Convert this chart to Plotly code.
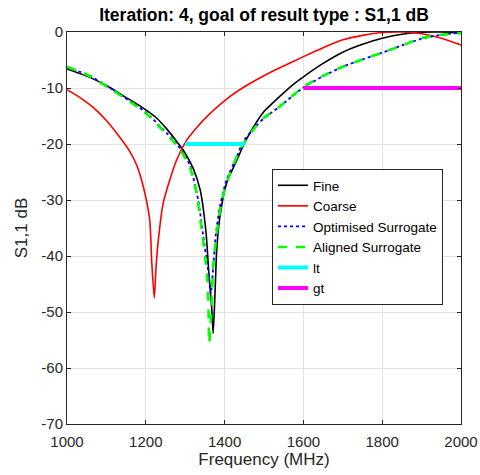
import plotly.graph_objects as go

# ---- data ----
freq_fine = [1000, 1058, 1101, 1143, 1185, 1228, 1253, 1278, 1296, 1320, 1338, 1353, 1360, 1367, 1371,
             1376, 1380, 1388, 1405, 1431, 1452, 1480, 1500, 1540, 1570, 1600, 1650, 1700, 1750,
             1800, 1850, 1900, 1950, 2000]
s11_fine = [-6.6, -8.1, -9.6, -11.4, -13.2, -15.4, -17.3, -19.5, -21.2, -24.3, -28.2, -35.9, -43.1, -49.0, -53.8,
            -46.0, -38.9, -33.0, -27.0, -22.9, -19.6, -16.2, -14.2, -11.5, -9.6, -8.0, -5.6, -3.6, -2.2,
            -1.1, -0.4, -0.05, 0.0, -0.2]

freq_coarse = [1000, 1035, 1067, 1100, 1135, 1160, 1177, 1195, 1210, 1215, 1221.5, 1226, 1232, 1244,
               1261, 1278, 1304, 1330, 1355, 1414, 1464, 1500, 1540, 1600, 1650, 1700, 1750, 1800,
               1850, 1900, 1950, 2000]
s11_coarse = [-10.3, -11.8, -13.5, -15.8, -18.9, -21.4, -23.8, -28.0, -33.6, -41.0, -47.5, -42.0, -37.0, -30.6,
              -26.4, -22.9, -19.3, -17.0, -15.1, -11.5, -9.2, -7.8, -6.4, -4.4, -2.8, -1.4, -0.6, -0.1,
              0.0, -0.3, -1.1, -2.3]

freq_opt = [1000, 1058, 1118, 1169, 1203, 1237, 1262, 1287, 1312, 1333, 1346, 1359, 1365, 1370,
            1378, 1388, 1405, 1431, 1447, 1480, 1500, 1540, 1600, 1650, 1700, 1750, 1800, 1850,
            1900, 1950, 2000]
s11_opt = [-6.3, -7.8, -10.4, -12.8, -14.5, -16.9, -18.7, -20.8, -23.8, -30.0, -36.5, -43.0, -46.7, -43.0,
           -36.0, -31.2, -26.4, -22.3, -19.6, -16.8, -15.4, -13.3, -9.9, -7.9, -6.2, -4.9, -3.7, -2.4,
           -1.2, -0.5, -0.1]

freq_aln = [1000, 1058, 1118, 1169, 1203, 1237, 1262, 1287, 1312, 1328, 1342, 1355, 1359, 1361,
            1367, 1371, 1380, 1393, 1414, 1443, 1480, 1500, 1540, 1600, 1650, 1700, 1750, 1800,
            1850, 1900, 1950, 2000]
s11_aln = [-6.2, -7.9, -10.5, -12.9, -14.7, -17.1, -18.9, -21.0, -24.2, -28.5, -35.4, -43.0, -49.0, -55.6,
           -49.0, -41.9, -36.0, -30.0, -25.2, -20.5, -16.8, -15.3, -13.3, -9.8, -7.8, -6.2, -4.9, -3.7,
           -2.4, -1.1, -0.5, -0.2]

freq_lt = [1300, 1450]
level_lt = [-20, -20]
freq_gt = [1600, 2000]
level_gt = [-10, -10]

x_ticks = [1000, 1200, 1400, 1600, 1800, 2000]
y_ticks = [0, -10, -20, -30, -40, -50, -60, -70]

FONT = "Liberation Sans, Arial, sans-serif"
SM = 0.6

fig = go.Figure()
fig.add_trace(go.Scatter(x=freq_fine, y=s11_fine, mode="lines", name="Fine",
                         line=dict(color="#000000", width=1.6, shape="spline", smoothing=SM)))
fig.add_trace(go.Scatter(x=freq_coarse, y=s11_coarse, mode="lines", name="Coarse",
                         line=dict(color="#ff0000", width=1.6, shape="spline", smoothing=SM)))
fig.add_trace(go.Scatter(x=freq_opt, y=s11_opt, mode="lines", name="Optimised Surrogate",
                         line=dict(color="#0000ff", width=1.8, dash="dot", shape="spline", smoothing=SM)))
fig.add_trace(go.Scatter(x=freq_aln, y=s11_aln, mode="lines", name="Aligned Surrogate",
                         line=dict(color="#00ff00", width=2.6, dash="dash", shape="spline", smoothing=SM)))
fig.add_trace(go.Scatter(x=freq_lt, y=level_lt, mode="lines", name="lt",
                         line=dict(color="#00ffff", width=4)))
fig.add_trace(go.Scatter(x=freq_gt, y=level_gt, mode="lines", name="gt",
                         line=dict(color="#ff00ff", width=4)))

axis_common = dict(
    showgrid=True, gridcolor="#e3e3e3", gridwidth=1,
    showline=True, linecolor="#262626", linewidth=1,
    mirror="ticks", ticks="inside", ticklen=4, tickcolor="#262626",
    zeroline=False, automargin=False,
    tickfont=dict(family=FONT, size=15, color="#262626"),
)

fig.update_xaxes(range=[1000, 2000], tickvals=x_ticks, ticktext=[str(v) for v in x_ticks],
                 ticklabelstandoff=4,
                 title=dict(text="Frequency (MHz)", font=dict(family=FONT, size=17, color="#262626"),
                            standoff=2),
                 **axis_common)
fig.update_yaxes(range=[-70, 0], tickvals=y_ticks, ticktext=[str(v) for v in y_ticks],
                 title=dict(text="S1,1 dB", font=dict(family=FONT, size=17, color="#262626"),
                            standoff=9),
                 **axis_common)

fig.update_layout(
    width=480, height=475,
    margin=dict(l=67, r=19, t=32, b=51),
    paper_bgcolor="white", plot_bgcolor="white",
    title=dict(text="<b>Iteration: 4, goal of result type : S1,1 dB</b>",
               font=dict(family=FONT, size=17.5, color="#000000"),
               x=264 / 480, xanchor="center",
               y=1 - 15 / 475, yanchor="middle"),
    legend=dict(x=(272 - 67) / 394, y=(424 - 169) / 392, xanchor="left", yanchor="top",
                bgcolor="white", bordercolor="#262626", borderwidth=1,
                font=dict(family=FONT, size=13.5, color="#000000"),
                tracegroupgap=0, itemwidth=30),
    showlegend=True,
)

fig.write_html("out.html", config={"displayModeBar": False},
               post_script="document.body.style.margin='0';document.body.style.padding='0';")
